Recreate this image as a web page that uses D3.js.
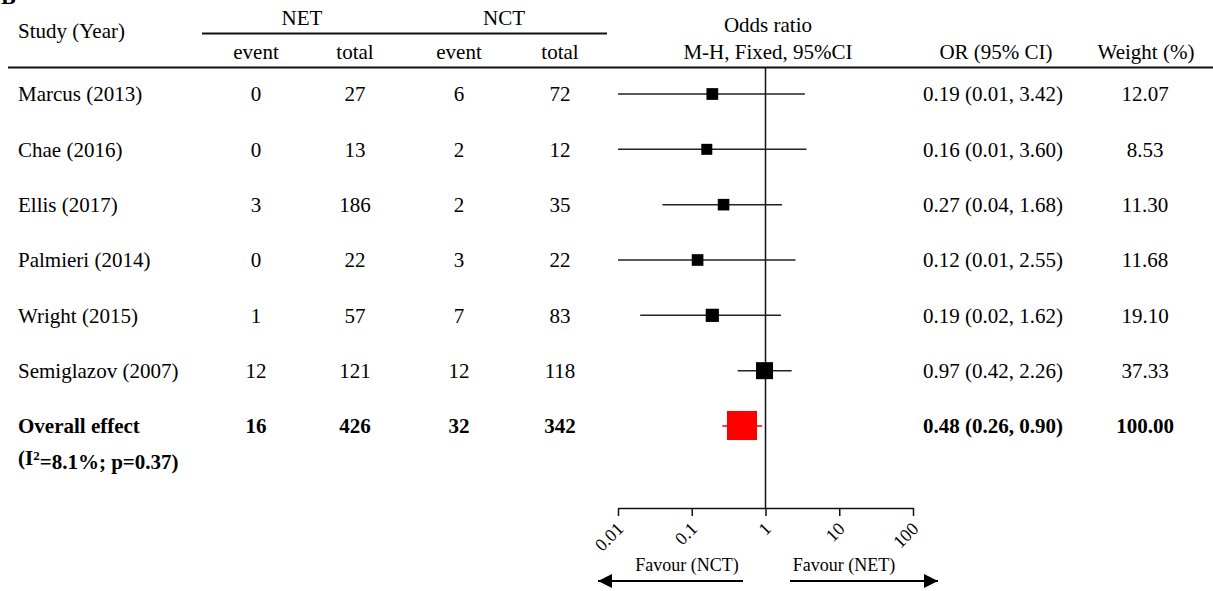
<!DOCTYPE html>
<html>
<head>
<meta charset="utf-8">
<script src="https://cdn.jsdelivr.net/npm/d3@7"></script>
<style>
  body { margin: 0; background: #fff; }
  svg text { font-family: "Liberation Serif", "Times New Roman", serif; fill: #000; }
</style>
</head>
<body>
<div id="chart"></div>
<script>
// Forest plot: NET vs NCT, odds ratios (M-H, fixed)

const studies = ["Marcus (2013)", "Chae (2016)", "Ellis (2017)", "Palmieri (2014)", "Wright (2015)", "Semiglazov (2007)"];
const netEvent = [0, 0, 3, 0, 1, 12];
const netTotal = [27, 13, 186, 22, 57, 121];
const nctEvent = [6, 2, 2, 3, 7, 12];
const nctTotal = [72, 12, 35, 22, 83, 118];
const orValue = [0.19, 0.16, 0.27, 0.12, 0.19, 0.97];
const orLower = [0.01, 0.01, 0.04, 0.01, 0.02, 0.42];
const orUpper = [3.42, 3.60, 1.68, 2.55, 1.62, 2.26];
const weights = [12.07, 8.53, 11.30, 11.68, 19.10, 37.33];

const overallCounts = [16, 426, 32, 342];
const overallOR = [0.48, 0.26, 0.90];
const overallWeight = 100.00;

const tickValues = [0.01, 0.1, 1, 10, 100];
const tickLabels = ["0.01", "0.1", "1", "10", "100"];

const width = 1213;
const height = 591;
const fs = "21px";

const svg = d3.select("#chart")
  .append("svg")
  .attr("width", width)
  .attr("height", height);

// scales
const x = d3.scaleLog().domain([0.01, 100]).range([618, 913]);
const y = d3.scaleLinear().domain([0, 6]).range([94, 426]);
const boxSize = d3.scaleLinear().domain([8.53, 37.33]).range([11, 17]);

const colX = { name: 18, netE: 256, netT: 355, nctE: 459, nctT: 560, or: 993, w: 1145 };

// panel letter, cut off at the top as in the source figure
svg.append("text")
  .attr("x", 1)
  .attr("y", 4)
  .style("font-size", "22px")
  .style("font-weight", "bold")
  .text("B");

// header
const header = svg.append("g").style("font-size", fs);

header.append("text").attr("x", colX.name).attr("y", 38).text("Study (Year)");
header.append("text").attr("x", 302).attr("y", 25).attr("text-anchor", "middle").text("NET");
header.append("text").attr("x", 504).attr("y", 25).attr("text-anchor", "middle").text("NCT");

header.append("line")
  .attr("x1", 202).attr("x2", 607)
  .attr("y1", 33.5).attr("y2", 33.5)
  .attr("stroke", "#111").attr("stroke-width", 2);

[["event", colX.netE], ["total", colX.netT], ["event", colX.nctE], ["total", colX.nctT]].forEach(([t, cx]) => {
  header.append("text").attr("x", cx).attr("y", 59).attr("text-anchor", "middle").text(t);
});

header.append("text").attr("x", 768).attr("y", 32).attr("text-anchor", "middle").text("Odds ratio");
header.append("text").attr("x", 768).attr("y", 59).attr("text-anchor", "middle").text("M-H, Fixed, 95%CI");
header.append("text").attr("x", 996).attr("y", 59).attr("text-anchor", "middle").text("OR (95% CI)");
header.append("text").attr("x", 1146).attr("y", 59).attr("text-anchor", "middle").text("Weight (%)");

svg.append("line")
  .attr("x1", 8).attr("x2", width)
  .attr("y1", 67.5).attr("y2", 67.5)
  .attr("stroke", "#111").attr("stroke-width", 2);

// line of no effect
svg.append("line")
  .attr("x1", x(1)).attr("x2", x(1))
  .attr("y1", 68).attr("y2", 508)
  .attr("stroke", "#111").attr("stroke-width", 1.5);

// study rows
const rows = svg.append("g").style("font-size", fs);

studies.forEach((s, i) => {
  const yy = y(i);
  rows.append("text").attr("x", colX.name).attr("y", yy).attr("dy", "0.35em").text(s);
  [[netEvent[i], colX.netE], [netTotal[i], colX.netT], [nctEvent[i], colX.nctE], [nctTotal[i], colX.nctT]].forEach(([v, cx]) => {
    rows.append("text").attr("x", cx).attr("y", yy).attr("dy", "0.35em").attr("text-anchor", "middle").text(v);
  });
  rows.append("text").attr("x", colX.or).attr("y", yy).attr("dy", "0.35em").attr("text-anchor", "middle")
    .text(`${orValue[i].toFixed(2)} (${orLower[i].toFixed(2)}, ${orUpper[i].toFixed(2)})`);
  rows.append("text").attr("x", colX.w).attr("y", yy).attr("dy", "0.35em").attr("text-anchor", "middle")
    .text(weights[i].toFixed(2));

  // CI line and box
  svg.append("line")
    .attr("x1", x(orLower[i])).attr("x2", x(orUpper[i]))
    .attr("y1", yy).attr("y2", yy)
    .attr("stroke", "#222").attr("stroke-width", 1.5);
  const b = boxSize(weights[i]);
  svg.append("rect")
    .attr("x", x(orValue[i]) - b / 2).attr("y", yy - b / 2)
    .attr("width", b).attr("height", b)
    .attr("fill", "#000");
});

// overall effect
const yo = y(6.0);
const bold = svg.append("g").style("font-size", fs).style("font-weight", "bold");
bold.append("text").attr("x", colX.name).attr("y", yo).attr("dy", "0.35em").text("Overall effect");
const sub = bold.append("text").attr("x", colX.name).attr("y", yo + 32).attr("dy", "0.35em");
sub.append("tspan").text("(I");
sub.append("tspan").attr("dy", "-0.45em").style("font-size", "13px").text("2");
sub.append("tspan").attr("dy", "0.45em").text("=8.1%; p=0.37)");

[colX.netE, colX.netT, colX.nctE, colX.nctT].forEach((cx, k) => {
  bold.append("text").attr("x", cx).attr("y", yo).attr("dy", "0.35em").attr("text-anchor", "middle").text(overallCounts[k]);
});
bold.append("text").attr("x", colX.or).attr("y", yo).attr("dy", "0.35em").attr("text-anchor", "middle")
  .text(`${overallOR[0].toFixed(2)} (${overallOR[1].toFixed(2)}, ${overallOR[2].toFixed(2)})`);
bold.append("text").attr("x", colX.w).attr("y", yo).attr("dy", "0.35em").attr("text-anchor", "middle")
  .text(overallWeight.toFixed(2));

svg.append("line")
  .attr("x1", x(overallOR[1])).attr("x2", x(overallOR[2]))
  .attr("y1", yo).attr("y2", yo)
  .attr("stroke", "#ff0000").attr("stroke-width", 1.5);
const bo = boxSize(overallWeight);
svg.append("rect")
  .attr("x", x(overallOR[0]) - bo / 2).attr("y", yo - bo / 2)
  .attr("width", bo).attr("height", bo - 1)
  .attr("fill", "#ff0000");

// x axis
const axis = svg.append("g")
  .attr("transform", "translate(0,508)")
  .call(d3.axisBottom(x).tickValues(tickValues).tickFormat((d, i) => tickLabels[i]).tickSize(8).tickSizeOuter(0));

axis.attr("font-size", null).attr("font-family", null);
axis.select(".domain").attr("stroke", "#111").attr("stroke-width", 1.5);
axis.selectAll(".tick line").attr("stroke", "#111").attr("stroke-width", 1.5);
axis.selectAll(".tick text")
  .attr("x", 0).attr("y", 0).attr("dy", 0)
  .attr("text-anchor", "end")
  .attr("transform", "translate(6,22) rotate(-45)")
  .style("font-size", "18px")
  .attr("fill", "#000");

// favour labels + arrows
svg.append("text").attr("x", 687).attr("y", 571).attr("text-anchor", "middle").style("font-size", "18px").text("Favour (NCT)");
svg.append("text").attr("x", 844).attr("y", 571).attr("text-anchor", "middle").style("font-size", "18px").text("Favour (NET)");

const defs = svg.append("defs");
defs.append("marker")
  .attr("id", "arrow")
  .attr("viewBox", "0 0 10 10")
  .attr("refX", 10).attr("refY", 5)
  .attr("markerWidth", 9).attr("markerHeight", 7)
  .attr("markerUnits", "strokeWidth")
  .attr("orient", "auto")
  .append("path")
  .attr("d", "M0,0 L10,5 L0,10 Z")
  .attr("fill", "#000");

svg.append("line")
  .attr("x1", 743).attr("x2", 598).attr("y1", 581).attr("y2", 581)
  .attr("stroke", "#000").attr("stroke-width", 2)
  .attr("marker-end", "url(#arrow)");
svg.append("line")
  .attr("x1", 790).attr("x2", 938).attr("y1", 581).attr("y2", 581)
  .attr("stroke", "#000").attr("stroke-width", 2)
  .attr("marker-end", "url(#arrow)");
</script>
</body>
</html>
